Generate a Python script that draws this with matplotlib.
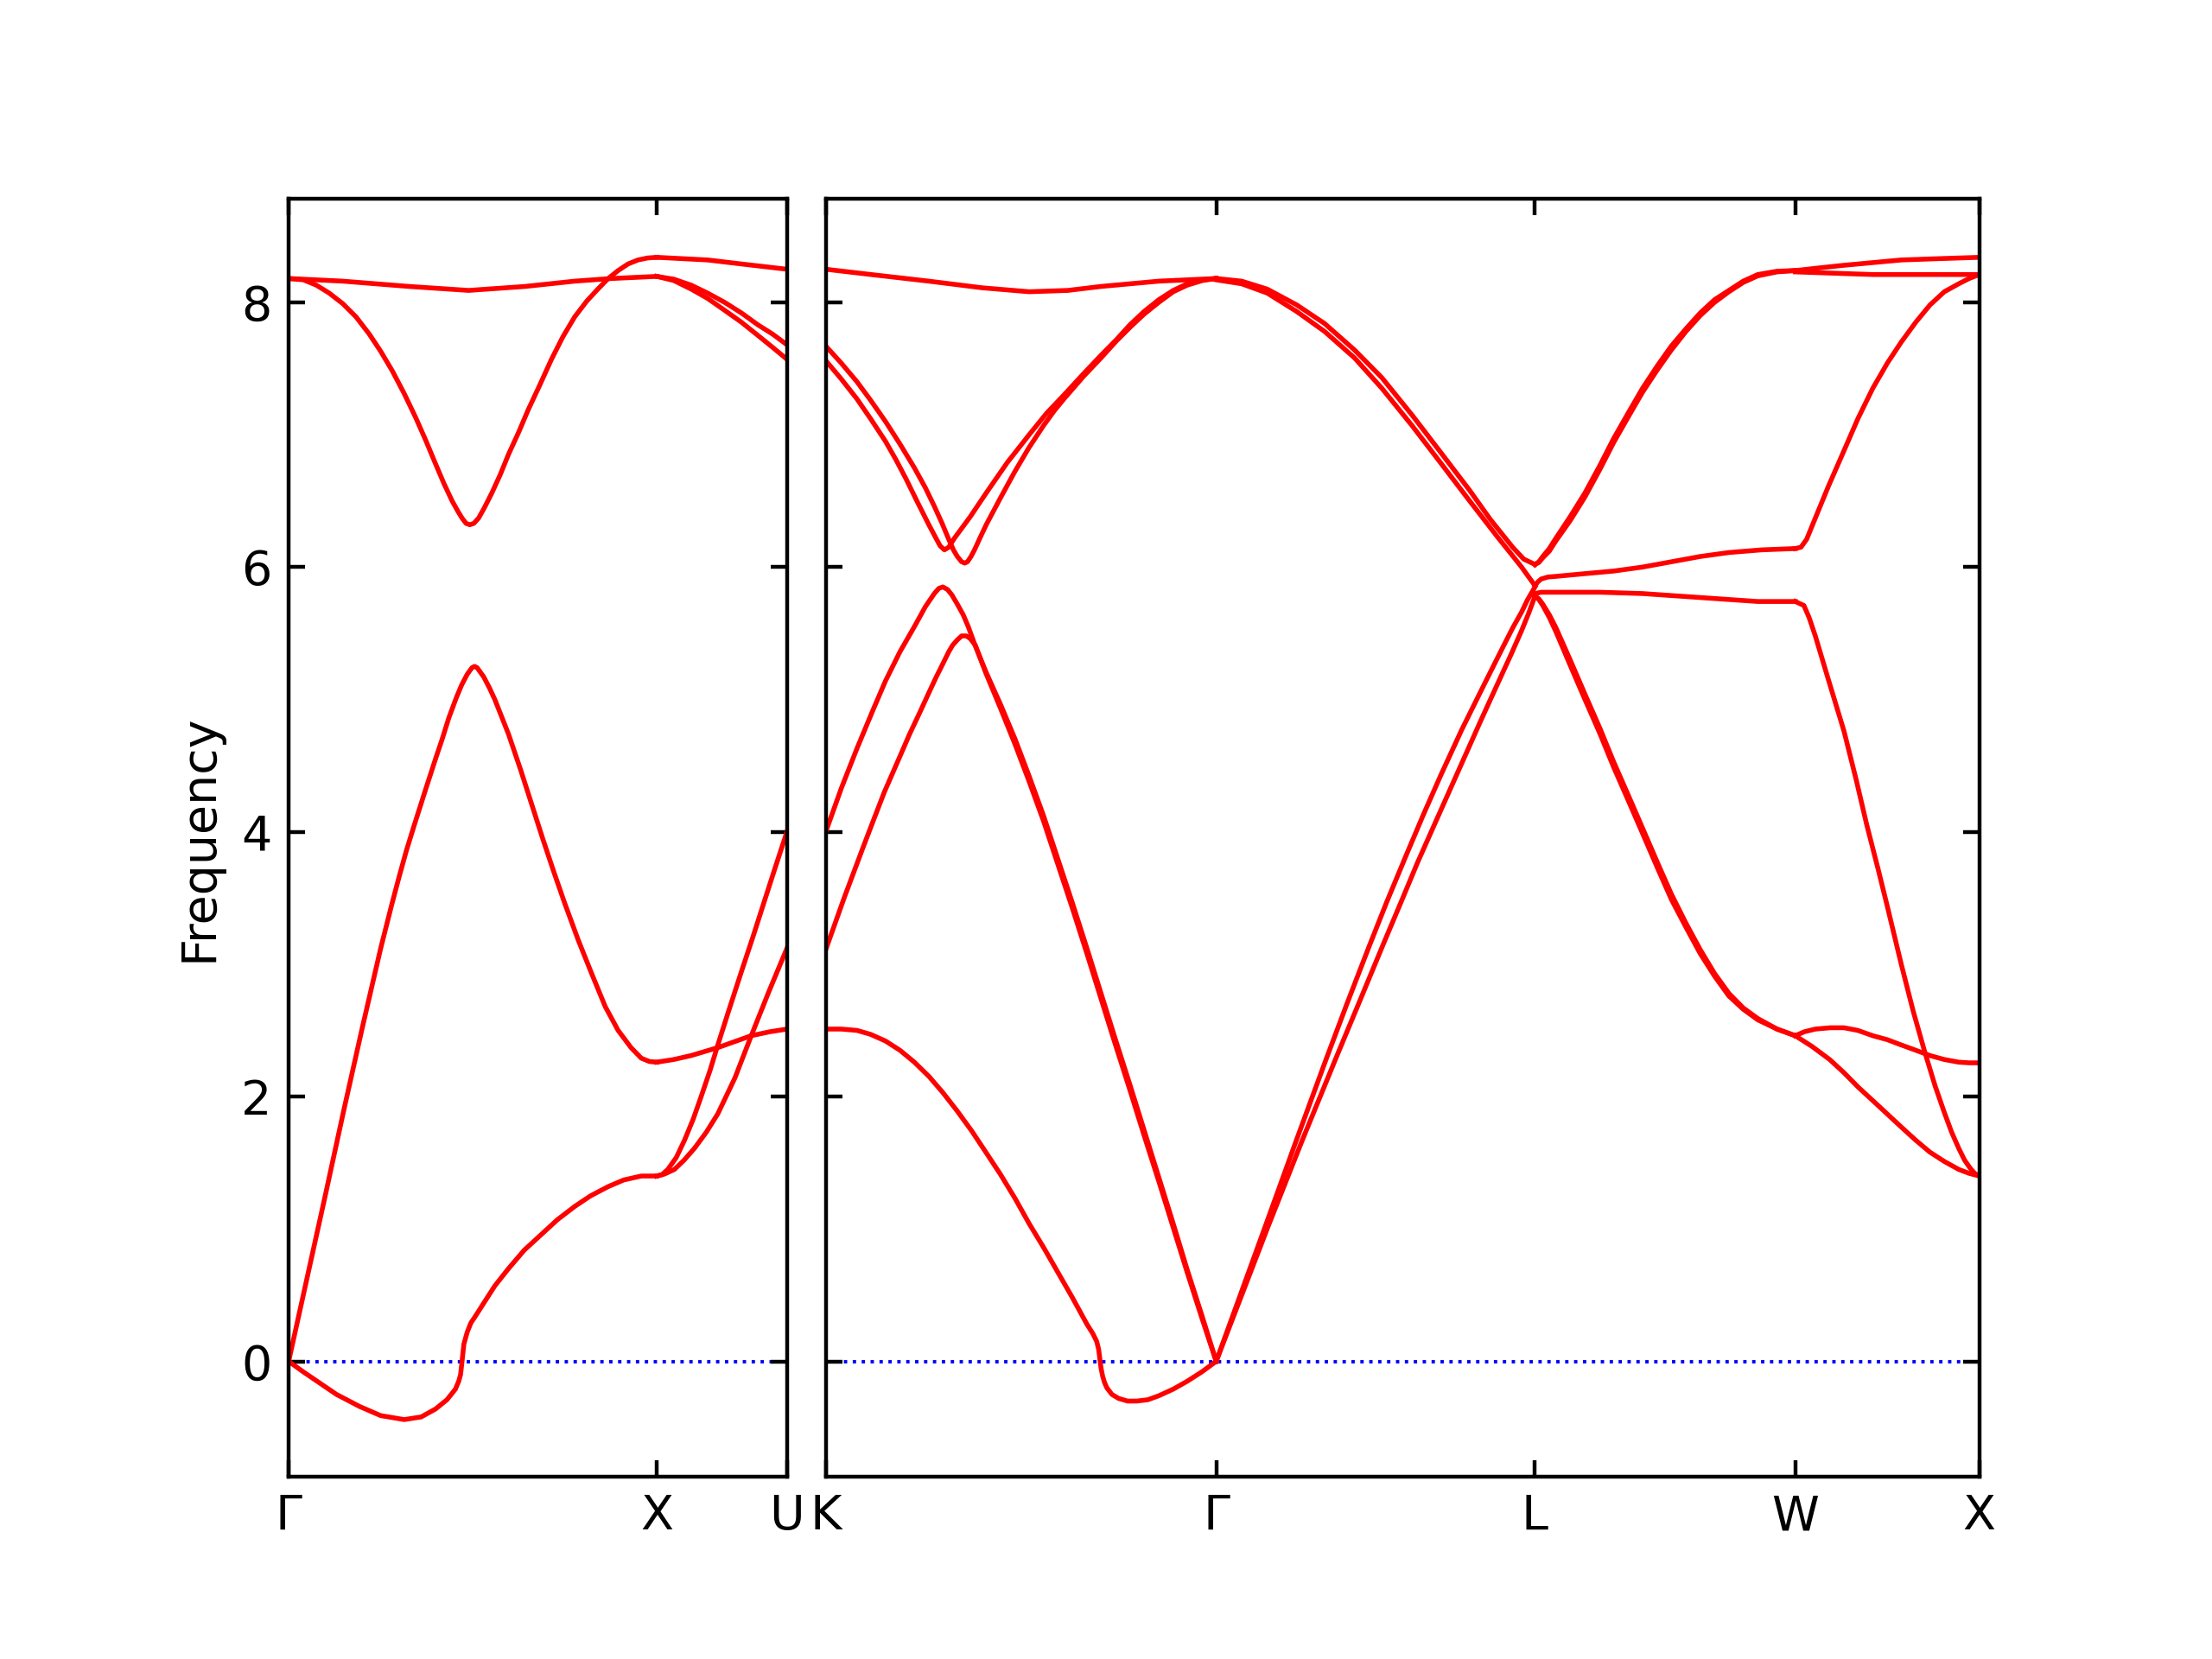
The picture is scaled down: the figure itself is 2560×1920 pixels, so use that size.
import numpy as np
import matplotlib
matplotlib.use("Agg")
import matplotlib.pyplot as plt

# Path segment lengths (2*pi/a units) for the FCC path
seg_len = {"GX": 1.0, "XU": 0.3536, "KG": 1.0607, "GL": 0.8660, "LW": 0.7071, "WX": 0.5}

# Each segment: list of bands, each band = (fraction along segment, frequency)
band_GX = [
    ([0, 0.147, 0.327, 0.489, 0.642, 0.777, 0.877, 1.0],
     [8.18, 8.16, 8.12, 8.09, 8.12, 8.16, 8.18, 8.196]),
    ([0, 0.04, 0.075, 0.11, 0.147, 0.183, 0.219, 0.25, 0.282, 0.314, 0.345, 0.372, 0.399,
      0.422, 0.444, 0.46, 0.471, 0.482, 0.492, 0.503, 0.516, 0.532, 0.552, 0.575, 0.597,
      0.625, 0.651, 0.683, 0.714, 0.745, 0.777, 0.81, 0.840, 0.868, 0.895, 0.922, 0.949,
      0.975, 1.0],
     [8.18, 8.17, 8.13, 8.07, 7.99, 7.89, 7.76, 7.63, 7.48, 7.31, 7.13, 6.96, 6.78,
      6.63, 6.50, 6.42, 6.37, 6.33, 6.32, 6.33, 6.37, 6.45, 6.56, 6.70, 6.85,
      7.02, 7.19, 7.38, 7.57, 7.74, 7.89, 8.01, 8.10, 8.18, 8.24, 8.29, 8.32,
      8.335, 8.34]),
    ([0, 0.05, 0.1, 0.15, 0.2, 0.25, 0.28, 0.3, 0.32, 0.34, 0.372, 0.4, 0.417, 0.435,
      0.455, 0.47, 0.485, 0.498, 0.505, 0.512, 0.53, 0.545, 0.56, 0.597, 0.63, 0.66,
      0.69, 0.72, 0.75, 0.787, 0.823, 0.86, 0.895, 0.93, 0.958, 0.98, 1.0],
     [0, 0.63, 1.26, 1.90, 2.52, 3.12, 3.45, 3.66, 3.86, 4.04, 4.32, 4.56, 4.70, 4.86,
      5.01, 5.11, 5.19, 5.24, 5.25, 5.24, 5.17, 5.09, 5.00, 4.74, 4.47, 4.21,
      3.95, 3.70, 3.46, 3.18, 2.93, 2.68, 2.50, 2.37, 2.29, 2.265, 2.26]),
    ([0, 0.04, 0.075, 0.13, 0.192, 0.25, 0.314, 0.36, 0.399, 0.43, 0.453, 0.462, 0.467,
      0.471, 0.476, 0.485, 0.495, 0.507, 0.53, 0.56, 0.597, 0.64, 0.687, 0.73, 0.777,
      0.82, 0.868, 0.91, 0.958, 1.0],
     [0, -0.08, -0.146, -0.25, -0.34, -0.41, -0.44, -0.42, -0.36, -0.29, -0.21, -0.15, -0.10,
      0.0, 0.13, 0.22, 0.29, 0.34, 0.44, 0.57, 0.70, 0.84, 0.96, 1.07, 1.17,
      1.25, 1.32, 1.37, 1.40, 1.40]),
]

band_XU = [
    ([0, 0.392, 0.649, 1.0], [8.34, 8.32, 8.29, 8.25]),
    ([0, 0.13, 0.264, 0.39, 0.521, 0.65, 0.777, 0.89, 1.0],
     [8.196, 8.175, 8.13, 8.07, 8.00, 7.92, 7.83, 7.76, 7.68]),
    ([0, 0.13, 0.264, 0.39, 0.521, 0.65, 0.777, 0.89, 1.0],
     [8.196, 8.165, 8.10, 8.03, 7.94, 7.85, 7.75, 7.66, 7.57]),
    ([0, 0.13, 0.264, 0.469, 0.726, 0.87, 1.0], [2.26, 2.28, 2.31, 2.37, 2.46, 2.49, 2.51]),
    ([0, 0.04, 0.085, 0.15, 0.213, 0.28, 0.341, 0.41, 0.469, 0.55, 0.649, 0.74, 0.828, 0.91, 1.0],
     [1.40, 1.41, 1.45, 1.54, 1.67, 1.83, 2.00, 2.20, 2.39, 2.64, 2.94, 3.21, 3.48, 3.73, 4.00]),
    ([0, 0.06, 0.136, 0.21, 0.290, 0.38, 0.469, 0.6, 0.726, 0.86, 1.0],
     [1.40, 1.415, 1.45, 1.52, 1.61, 1.73, 1.87, 2.14, 2.46, 2.79, 3.12]),
]

kg_desc = [0.41, 0.448, 0.485, 0.521, 0.558, 0.595, 0.632, 0.67, 0.705, 0.74, 0.779,
           0.815, 0.853, 0.89, 0.926, 0.963, 1.0]
band_KG = [
    ([0, 0.116, 0.264, 0.4, 0.521, 0.62, 0.705, 0.853, 1.0],
     [8.25, 8.21, 8.16, 8.11, 8.08, 8.09, 8.12, 8.16, 8.18]),
    ([0, 0.04, 0.080, 0.115, 0.153, 0.18, 0.205, 0.235, 0.264, 0.282, 0.293, 0.304,
      0.315, 0.33, 0.37, 0.411, 0.465, 0.521, 0.565, 0.610, 0.66, 0.705, 0.745, 0.779,
      0.815, 0.853, 0.89, 0.926, 0.965, 1.0],
     [7.56, 7.42, 7.27, 7.12, 6.95, 6.81, 6.67, 6.49, 6.32, 6.22, 6.16, 6.13,
      6.15, 6.22, 6.38, 6.56, 6.79, 7.00, 7.16, 7.30, 7.46, 7.60, 7.72, 7.83,
      7.93, 8.02, 8.09, 8.14, 8.17, 8.18]),
    ([0, 0.04, 0.080, 0.115, 0.153, 0.19, 0.227, 0.255, 0.278, 0.298, 0.315, 0.327, 0.337,
      0.348, 0.356, 0.363, 0.372, 0.381, 0.395, 0.411, 0.447, 0.484, 0.52, 0.558, 0.585,
      0.610, 0.66, 0.705, 0.745, 0.779, 0.815, 0.853, 0.89, 0.926, 0.965, 1.0],
     [7.67, 7.54, 7.40, 7.26, 7.10, 6.93, 6.75, 6.60, 6.46, 6.33, 6.21, 6.13, 6.08,
      6.04, 6.03, 6.04, 6.08, 6.13, 6.22, 6.32, 6.52, 6.72, 6.90, 7.07, 7.18,
      7.27, 7.44, 7.58, 7.71, 7.81, 7.91, 8.00, 8.08, 8.13, 8.165, 8.18]),
    ([0, 0.04, 0.080, 0.121, 0.153, 0.19, 0.227, 0.255, 0.278, 0.29, 0.300, 0.312, 0.323,
      0.337, 0.352, 0.365, 0.381] + kg_desc,
     [4.00, 4.33, 4.63, 4.92, 5.14, 5.36, 5.55, 5.70, 5.80, 5.84, 5.85, 5.83, 5.79,
      5.72, 5.64, 5.55, 5.42,
      5.21, 4.96, 4.70, 4.42, 4.12, 3.79, 3.46, 3.11, 2.78, 2.45, 2.09,
      1.75, 1.39, 1.04, 0.69, 0.35, 0]),
    ([0, 0.047, 0.094, 0.116, 0.15, 0.19, 0.215, 0.239, 0.264, 0.283, 0.300, 0.315, 0.325,
      0.337, 0.348, 0.36, 0.370, 0.383] + kg_desc,
     [3.11, 3.50, 3.87, 4.04, 4.30, 4.57, 4.74, 4.89, 5.05, 5.17, 5.27, 5.36, 5.41,
      5.45, 5.48, 5.48, 5.46, 5.41,
      5.20, 4.93, 4.66, 4.38, 4.08, 3.75, 3.42, 3.07, 2.74, 2.41, 2.05,
      1.71, 1.36, 1.01, 0.67, 0.33, 0]),
    ([0, 0.04, 0.080, 0.115, 0.153, 0.19, 0.227, 0.265, 0.300, 0.337, 0.374, 0.41, 0.448,
      0.485, 0.521, 0.558, 0.595, 0.632, 0.669, 0.684, 0.694, 0.699, 0.702, 0.705, 0.709,
      0.714, 0.720, 0.733, 0.750, 0.773, 0.797, 0.825, 0.853, 0.89, 0.926, 0.963, 1.0],
     [2.51, 2.51, 2.50, 2.47, 2.42, 2.35, 2.26, 2.15, 2.03, 1.89, 1.74, 1.58, 1.41,
      1.23, 1.04, 0.86, 0.67, 0.48, 0.28, 0.21, 0.15, 0.09, 0.02, -0.05, -0.11,
      -0.16, -0.20, -0.25, -0.28, -0.30, -0.30, -0.29, -0.26, -0.21, -0.15, -0.08, 0]),
]

band_GL = [
    ([0, 0.08, 0.16, 0.253, 0.34, 0.434, 0.52, 0.614, 0.70, 0.795, 0.86, 0.930, 0.965, 1.0],
     [8.18, 8.16, 8.10, 7.98, 7.84, 7.64, 7.43, 7.15, 6.88, 6.58, 6.36, 6.15, 6.06, 6.02]),
    ([0, 0.08, 0.16, 0.253, 0.34, 0.434, 0.52, 0.614, 0.70, 0.795, 0.885, 0.925, 0.958, 1.0],
     [8.17, 8.14, 8.07, 7.93, 7.78, 7.58, 7.35, 7.07, 6.80, 6.50, 6.22, 6.10, 6.00, 5.86]),
    ([0, 0.077, 0.154, 0.25, 0.343, 0.41, 0.479, 0.535, 0.592, 0.65, 0.705, 0.77,
      0.84, 0.89, 0.93, 0.958, 0.976, 1.0],
     [0, 0.51, 1.02, 1.66, 2.27, 2.70, 3.13, 3.47, 3.80, 4.13, 4.43, 4.77,
      5.11, 5.35, 5.54, 5.66, 5.75, 5.85]),
    ([0, 0.08, 0.163, 0.27, 0.379, 0.45, 0.524, 0.58, 0.632, 0.68, 0.73, 0.78, 0.83,
      0.885, 0.925, 0.958, 0.98, 1.0],
     [0, 0.50, 1.02, 1.67, 2.31, 2.72, 3.15, 3.47, 3.77, 4.03, 4.30, 4.57, 4.84,
      5.13, 5.34, 5.52, 5.65, 5.78]),
]

lw_pos = [0, 0.015, 0.03, 0.055, 0.081, 0.135, 0.192, 0.25, 0.302, 0.36, 0.413, 0.47,
          0.524, 0.58, 0.635, 0.69, 0.745, 0.80, 0.856, 0.93, 1.0]
band_LW = [
    (lw_pos, [6.02, 6.04, 6.08, 6.14, 6.22, 6.38, 6.56, 6.77, 6.97, 7.17, 7.35, 7.52,
              7.67, 7.80, 7.92, 8.02, 8.09, 8.16, 8.21, 8.235, 8.24]),
    (lw_pos, [6.02, 6.035, 6.07, 6.12, 6.20, 6.35, 6.53, 6.74, 6.94, 7.14, 7.32, 7.49,
              7.64, 7.78, 7.90, 8.00, 8.08, 8.15, 8.20, 8.23, 8.24]),
    ([0, 0.012, 0.024, 0.05, 0.081, 0.19, 0.302, 0.413, 0.524, 0.635, 0.745, 0.87, 1.0],
     [5.86, 5.89, 5.91, 5.925, 5.93, 5.95, 5.97, 6.00, 6.04, 6.08, 6.11, 6.13, 6.14]),
    ([0, 0.024, 0.081, 0.25, 0.413, 0.635, 0.856, 1.0],
     [5.80, 5.81, 5.81, 5.81, 5.80, 5.77, 5.74, 5.74]),
    (lw_pos, [5.78, 5.76, 5.72, 5.64, 5.54, 5.30, 5.04, 4.78, 4.53, 4.27, 4.03, 3.77,
              3.53, 3.31, 3.11, 2.93, 2.78, 2.67, 2.59, 2.51, 2.46]),
    (lw_pos, [5.78, 5.755, 5.71, 5.62, 5.51, 5.26, 5.00, 4.74, 4.49, 4.23, 3.99, 3.73,
              3.49, 3.28, 3.08, 2.91, 2.76, 2.66, 2.58, 2.51, 2.46]),
]

band_WX = [
    ([0, 0.13, 0.265, 0.42, 0.576, 0.78, 1.0], [8.24, 8.26, 8.28, 8.30, 8.32, 8.33, 8.34]),
    ([0, 0.421, 1.0], [8.23, 8.21, 8.21]),
    ([0, 0.031, 0.062, 0.109, 0.18, 0.265, 0.34, 0.421, 0.50, 0.576, 0.655, 0.732, 0.81,
      0.888, 0.945, 1.0],
     [6.14, 6.15, 6.21, 6.37, 6.61, 6.88, 7.12, 7.35, 7.54, 7.70, 7.85, 7.98, 8.08,
      8.14, 8.18, 8.21]),
    ([0, 0.047, 0.075, 0.109, 0.18, 0.265, 0.33, 0.389, 0.45, 0.498, 0.576, 0.64, 0.701,
      0.76, 0.810, 0.85, 0.888, 0.920, 0.950, 0.975, 1.0],
     [5.74, 5.71, 5.62, 5.48, 5.15, 4.76, 4.40, 4.05, 3.72, 3.45, 3.00, 2.65, 2.35,
      2.08, 1.88, 1.73, 1.61, 1.52, 1.46, 1.42, 1.40]),
    ([0, 0.05, 0.109, 0.19, 0.265, 0.34, 0.421, 0.50, 0.576, 0.655, 0.732, 0.81, 0.888,
      0.945, 1.0],
     [2.46, 2.49, 2.51, 2.52, 2.52, 2.50, 2.46, 2.43, 2.39, 2.35, 2.31, 2.28, 2.26,
      2.255, 2.255]),
    ([0, 0.09, 0.187, 0.265, 0.343, 0.46, 0.576, 0.655, 0.732, 0.81, 0.888, 0.945, 1.0],
     [2.46, 2.38, 2.28, 2.18, 2.07, 1.92, 1.77, 1.67, 1.58, 1.51, 1.45, 1.42, 1.40]),
]

left_labels = ["\u0393", "X", "U"]
right_labels = ["K", "\u0393", "L", "W", "X"]

left_path = [("GX", band_GX), ("XU", band_XU)]
right_path = [("KG", band_KG), ("GL", band_GL), ("LW", band_LW), ("WX", band_WX)]

fig = plt.figure(figsize=(6.4, 4.8), dpi=400)
left_w = seg_len["GX"] + seg_len["XU"]
right_w = seg_len["KG"] + seg_len["GL"] + seg_len["LW"] + seg_len["WX"]
gs = fig.add_gridspec(1, 2, width_ratios=[left_w, right_w],
                      left=0.1305, right=0.8948, bottom=0.11, top=0.88, wspace=0.047)
ax1 = fig.add_subplot(gs[0])
ax2 = fig.add_subplot(gs[1], sharey=ax1)


def draw_path(ax, path, labels):
    start = 0.0
    ticks = [0.0]
    for name, bands in path:
        L = seg_len[name]
        for fr, val in bands:
            ax.plot(start + np.array(fr) * L, val, color="red", lw=1.0)
        start += L
        ticks.append(start)
    ax.axhline(0, color="blue", ls=":", lw=0.7, zorder=0)
    ax.set_xlim(0, start)
    ax.set_xticks(ticks)
    ax.set_xticklabels(labels)
    ax.tick_params(direction="in", top=True, right=True, labelsize=10)


draw_path(ax1, left_path, left_labels)
draw_path(ax2, right_path, right_labels)

ax1.set_ylim(-0.87, 8.78)
ax1.set_yticks([0, 2, 4, 6, 8])
ax1.set_ylabel("Frequency")
plt.setp(ax2.get_yticklabels(), visible=False)

fig.savefig("out.png", dpi=400)
